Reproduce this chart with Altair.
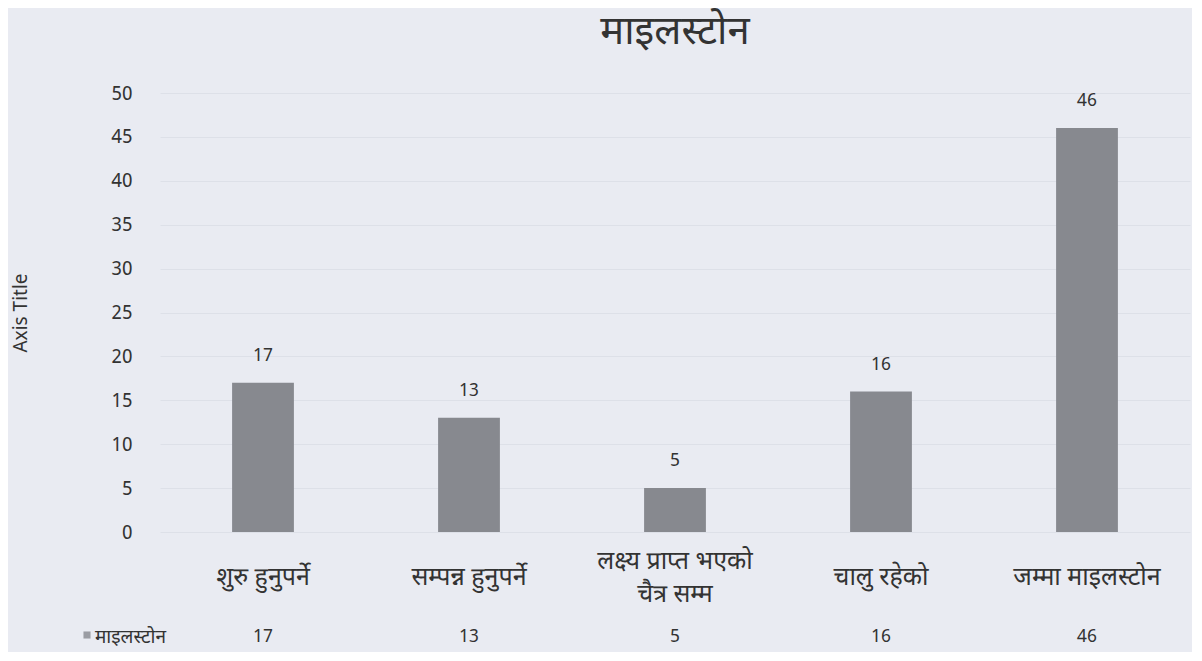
import altair as alt
import pandas as pd

categories = ["शुरु हुनुपर्ने", "सम्पन्न हुनुपर्ने", "लक्ष्य प्राप्त भएको\nचैत्र सम्म", "चालु रहेको", "जम्मा माइलस्टोन"]
values = [17, 13, 5, 16, 46]
series_name = "माइलस्टोन"
title_text = "माइलस्टोन"
y_title = "Axis Title"
y_ticks = [0, 5, 10, 15, 20, 25, 30, 35, 40, 45, 50]

df = pd.DataFrame({"cat": categories, "val": values})

FONT = "Noto Sans Devanagari, Noto Sans, Open Sans, sans-serif"
BG = "#e9ebf2"
BAR = "#87898f"
TXT = "#333333"
W, H = 1030, 439

x = alt.X("cat:N", sort=categories, axis=None,
          scale=alt.Scale(paddingInner=0.7, paddingOuter=0.35))
yscale = alt.Scale(domain=[0, 50], nice=False)
base = alt.Chart(df)

bars = base.mark_bar(color=BAR).encode(
    x=x,
    y=alt.Y("val:Q", scale=yscale,
            axis=alt.Axis(values=y_ticks, title=y_title, domain=False, ticks=False,
                          grid=True, gridColor="#dde0e8", gridWidth=1,
                          labelFontSize=19, labelColor=TXT, labelPadding=28,
                          labelFont=FONT, titleFont=FONT, titleFontSize=19,
                          titleFontWeight="normal", titleColor=TXT,
                          titleX=-130, titleY=H / 2, titleAngle=-90)),
)

labels = base.mark_text(dy=-27, fontSize=18, color=TXT, font=FONT).encode(
    x=x, y=alt.Y("val:Q", scale=yscale, axis=None), text=alt.Text("val:Q"))

cat_text = base.transform_calculate(
    nlines="length(split(datum.cat, '\\n'))"
).mark_text(fontSize=25, color=TXT, font=FONT, lineBreak="\n",
            baseline="middle", lineHeight=33).encode(
    x=x,
    y=alt.Y("nlines:Q", axis=None,
            scale=alt.Scale(domain=[1, 2], range=[H + 45, H + 45 - 16.5])),
    text="cat:N")

val_text = base.mark_text(fontSize=18, color=TXT, font=FONT, baseline="middle").encode(
    x=x, y=alt.value(H + 105), text=alt.Text("val:Q"))

key_df = pd.DataFrame({"name": [series_name]})
key_sq = alt.Chart(key_df).mark_square(color="#9a9ca3", size=50, opacity=1).encode(
    x=alt.value(-73), y=alt.value(H + 103))
key_txt = alt.Chart(key_df).mark_text(fontSize=19, color=TXT, font=FONT, align="left",
                                       baseline="middle").encode(
    x=alt.value(-65), y=alt.value(H + 105), text="name:N")

chart = alt.layer(bars, labels, cat_text, val_text, key_sq, key_txt).resolve_scale(
    y="independent"
).properties(
    width=W, height=H,
    title=alt.TitleParams(title_text, fontSize=40, font=FONT, fontWeight="normal",
                          color=TXT, anchor="middle", offset=32),
    autosize=alt.AutoSizeParams(type="none"),
    padding={"left": 152, "top": 85, "right": 2, "bottom": 120},
).configure(background=BG).configure_view(stroke=None, fill=BG)

chart.save("out.html", embed_options={"renderer": "svg", "actions": False})
